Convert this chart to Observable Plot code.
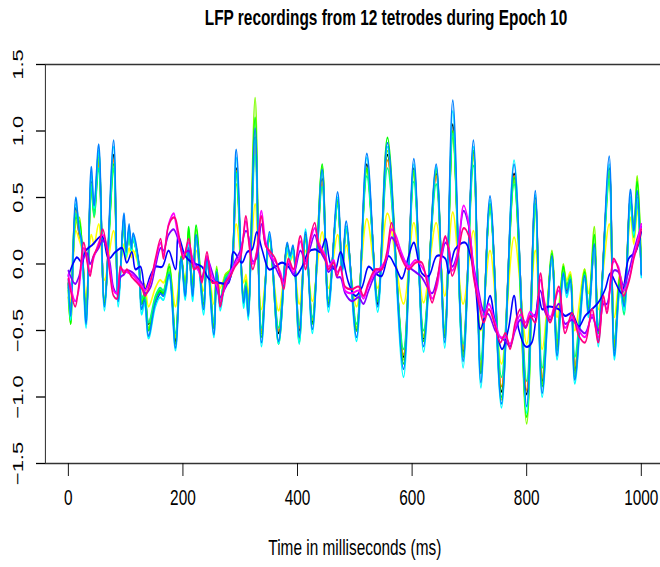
<!DOCTYPE html>
<html><head><meta charset="utf-8">
<script src="https://cdn.jsdelivr.net/npm/d3@7"></script>
<script src="https://cdn.jsdelivr.net/npm/@observablehq/plot@0.6"></script>
<style>
html,body{margin:0;padding:0;background:#fff;overflow:hidden;width:660px;height:567px}
#title{box-sizing:border-box;height:40px;line-height:35px;width:943px;padding-left:160px;text-align:center;transform:scaleX(0.6999);transform-origin:0 0;font-family:"Liberation Sans",Arial,sans-serif;font-weight:bold;font-size:22px;color:#000;white-space:nowrap}
#chart svg{display:block}
</style></head><body>
<div id="title">LFP recordings from 12 tetrodes during Epoch 10</div>
<div id="chart"></div>
<script>
const titleText = "LFP recordings from 12 tetrodes during Epoch 10";
const xLabel = "Time in milliseconds (ms)";
const xTicks = [0, 200, 400, 600, 800, 1000];
const yTicks = [-1.5, -1.0, -0.5, 0.0, 0.5, 1.0, 1.5];
const xDomain = [-40, 1040];
const yDomain = [-1.5, 1.5];

const seriesNames = ["T1","T2","T3","T4","T5","T6","T7","T8","T9","T10","T11","T12"];
const seriesColors = ["#000000","#FF8000","#FFFF00","#80FF00","#00FF00","#00FF80","#00FFFF","#0080FF","#0000FF","#8000FF","#FF00FF","#FF0080"];

// high-amplitude tetrodes: shared sample times (ms)
const tHigh = [0,4,13,19,23,31,40,45,53,63,
79,87,97,101,106,110,113,123,128,133,
140,152,160,166,176,187,197,204,210,217,
223,236,242,254,259,265,274,283,293,306,
310,314,326,337,351,367,382,387,392,403,
414,426,443,454,470,478,485,503,521,540,
557,585,603,620,642,657,671,689,707,720,
736,756,778,800,815,827,844,853,864,870,
876,884,901,908,918,925,944,953,963,970,
981,987,993,1000];

const vT1 = [-0.15,-0.35,0.42,0.22,0.16,-0.40,0.62,0.40,0.80,-0.30,
0.82,-0.26,0.34,0.08,0.26,0.10,0.20,0.00,-0.30,-0.26,
-0.45,-0.30,-0.22,-0.22,-0.06,-0.58,0.04,-0.22,0.12,-0.22,
0.20,-0.30,0.04,-0.48,-0.06,-0.28,-0.14,-0.10,0.72,-0.26,
-0.15,-0.35,0.95,-0.52,0.20,-0.52,0.14,0.05,0.12,-0.50,
0.22,-0.44,0.64,-0.30,0.48,-0.04,0.28,-0.50,0.75,-0.30,
0.82,-0.70,0.72,-0.56,0.68,-0.55,1.05,-0.66,0.85,-0.82,
0.45,-0.96,0.68,-0.98,0.50,-0.88,0.05,-0.62,-0.06,-0.20,
-0.12,-0.80,-0.08,-0.34,0.14,-0.52,0.72,-0.62,-0.14,-0.30,
0.50,0.22,0.50,-0.07];

const vT2 = [-0.14,-0.33,0.40,0.22,0.15,-0.38,0.60,0.38,0.76,-0.28,
0.78,-0.24,0.32,0.08,0.25,0.10,0.19,0.00,-0.28,-0.24,
-0.44,-0.28,-0.20,-0.21,-0.06,-0.55,0.04,-0.21,0.11,-0.21,
0.19,-0.29,0.04,-0.46,-0.05,-0.27,-0.12,-0.08,0.70,-0.25,
-0.14,-0.33,0.90,-0.50,0.19,-0.50,0.13,0.05,0.11,-0.48,
0.21,-0.42,0.62,-0.28,0.46,-0.04,0.27,-0.48,0.72,-0.28,
0.78,-0.68,0.70,-0.54,0.66,-0.52,1.00,-0.64,0.82,-0.80,
0.44,-0.92,0.66,-0.95,0.48,-0.85,0.05,-0.60,-0.06,-0.19,
-0.11,-0.77,-0.07,-0.32,0.13,-0.50,0.70,-0.60,-0.13,-0.29,
0.48,0.21,0.48,-0.06];

const vT3 = [-0.15,-0.28,0.25,0.18,0.12,-0.25,0.22,0.15,0.30,-0.12,
0.25,-0.12,0.15,0.04,0.12,0.05,0.10,-0.02,-0.18,-0.15,
-0.32,-0.18,-0.12,-0.14,-0.05,-0.32,0.02,-0.12,0.06,-0.12,
0.10,-0.20,0.02,-0.30,-0.04,-0.18,-0.08,-0.04,0.30,-0.14,
-0.08,-0.22,0.45,-0.34,0.10,-0.35,0.08,0.02,0.06,-0.30,
0.10,-0.28,0.24,-0.18,0.22,-0.02,0.14,-0.32,0.34,-0.18,
0.38,-0.30,0.31,-0.29,0.31,-0.24,0.39,-0.30,0.25,-0.50,
0.10,-0.75,0.20,-0.60,0.10,-0.64,0.02,-0.40,-0.04,-0.12,
-0.06,-0.50,-0.04,-0.22,0.10,-0.34,0.30,-0.40,-0.08,-0.20,
0.35,0.15,0.40,-0.04];

const vT4 = [-0.25,-0.45,0.30,0.35,0.20,-0.38,0.55,0.35,0.80,-0.28,
0.70,-0.22,0.28,0.08,0.22,0.10,0.18,0.00,-0.28,-0.22,
-0.48,-0.26,-0.18,-0.20,0.00,-0.55,0.05,-0.18,0.25,-0.18,
0.26,-0.32,0.06,-0.45,-0.02,-0.28,-0.08,-0.04,0.60,-0.28,
-0.12,-0.38,1.25,-0.52,0.18,-0.58,0.12,0.04,0.10,-0.56,
0.18,-0.42,0.73,-0.28,0.45,-0.03,0.25,-0.48,0.70,-0.26,
0.85,-0.72,0.68,-0.55,0.70,-0.52,0.95,-0.68,0.80,-0.80,
0.42,-1.02,0.62,-1.20,0.42,-0.90,0.10,-0.62,0.00,-0.16,
-0.08,-0.82,-0.04,-0.32,0.28,-0.50,0.62,-0.62,-0.08,-0.28,
0.45,0.30,0.66,0.00];

const vT5 = [-0.20,-0.45,0.35,0.32,0.20,-0.40,0.60,0.38,0.85,-0.30,
0.75,-0.25,0.30,0.06,0.25,0.10,0.20,-0.02,-0.30,-0.25,
-0.50,-0.28,-0.20,-0.22,-0.02,-0.60,0.06,-0.20,0.28,-0.20,
0.29,-0.30,0.05,-0.48,-0.04,-0.30,-0.10,-0.05,0.69,-0.30,
-0.15,-0.40,1.10,-0.55,0.20,-0.60,0.14,0.05,0.12,-0.59,
0.20,-0.45,0.75,-0.30,0.48,-0.05,0.28,-0.50,0.72,-0.28,
0.95,-0.75,0.70,-0.58,0.72,-0.55,1.00,-0.70,0.85,-0.82,
0.45,-1.00,0.65,-1.15,0.45,-0.92,0.08,-0.65,-0.02,-0.18,
-0.10,-0.85,-0.06,-0.35,0.22,-0.52,0.70,-0.65,-0.10,-0.30,
0.48,0.28,0.62,-0.05];

const vT6 = [-0.18,-0.35,0.38,0.25,0.15,-0.36,0.58,0.36,0.72,-0.26,
0.72,-0.22,0.30,0.08,0.24,0.10,0.18,0.00,-0.26,-0.22,
-0.44,-0.24,-0.18,-0.20,-0.06,-0.52,0.04,-0.20,0.10,-0.20,
0.18,-0.28,0.04,-0.44,-0.05,-0.26,-0.10,-0.06,0.68,-0.24,
-0.14,-0.32,0.82,-0.48,0.20,-0.48,0.12,0.05,0.10,-0.46,
0.20,-0.40,0.58,-0.26,0.44,-0.04,0.26,-0.45,0.66,-0.26,
0.72,-0.64,0.62,-0.50,0.60,-0.48,0.98,-0.60,0.74,-0.72,
0.40,-0.85,0.60,-0.88,0.44,-0.78,0.04,-0.56,-0.06,-0.18,
-0.10,-0.70,-0.08,-0.30,0.12,-0.46,0.64,-0.56,-0.20,-0.38,
0.45,0.20,0.45,-0.06];

const vT7 = [-0.15,-0.42,0.45,0.28,0.15,-0.48,0.68,0.42,0.85,-0.35,
0.88,-0.32,0.35,0.05,0.27,0.10,0.20,-0.03,-0.38,-0.30,
-0.56,-0.32,-0.25,-0.27,-0.10,-0.65,0.02,-0.27,0.15,-0.28,
0.20,-0.38,0.02,-0.55,-0.08,-0.35,-0.15,-0.10,0.80,-0.33,
-0.20,-0.42,0.95,-0.62,0.22,-0.60,0.12,0.03,0.10,-0.60,
0.26,-0.52,0.70,-0.36,0.50,-0.06,0.28,-0.58,0.80,-0.36,
0.88,-0.85,0.75,-0.66,0.73,-0.63,1.15,-0.78,0.88,-0.93,
0.48,-1.08,0.78,-1.12,0.52,-1.00,0.03,-0.72,-0.10,-0.25,
-0.15,-0.90,-0.12,-0.40,0.12,-0.62,0.75,-0.72,-0.20,-0.35,
0.50,0.22,0.50,-0.10];

const vT8 = [-0.12,-0.39,0.50,0.25,0.18,-0.45,0.73,0.44,0.90,-0.32,
0.93,-0.28,0.38,0.09,0.30,0.12,0.23,0.01,-0.34,-0.27,
-0.54,-0.29,-0.22,-0.24,-0.08,-0.63,0.04,-0.24,0.12,-0.24,
0.22,-0.34,0.04,-0.53,-0.06,-0.32,-0.12,-0.07,0.86,-0.29,
-0.17,-0.39,1.02,-0.59,0.24,-0.58,0.16,0.06,0.14,-0.55,
0.24,-0.49,0.71,-0.32,0.54,-0.04,0.32,-0.55,0.83,-0.32,
0.91,-0.79,0.79,-0.62,0.75,-0.59,1.23,-0.73,0.93,-0.89,
0.51,-1.05,0.75,-1.07,0.55,-0.97,0.06,-0.69,-0.07,-0.22,
-0.12,-0.87,-0.09,-0.37,0.15,-0.58,0.81,-0.69,-0.15,-0.32,
0.56,0.25,0.55,-0.08];

// blue tetrode
const tT9 = [0,9,15,24,30,41,59,70,82,94,
102,111,117,126,134,143,152,164,175,187,
192,204,216,233,245,262,280,288,303,312,
321,329,338,350,361,373,384,396,408,419,
431,440,449,457,466,475,489,501,513,524,
536,547,559,571,582,594,603,617,629,643,
658,664,675,693,702,710,719,728,736,745,
757,768,778,786,798,809,821,827,838,856,
867,879,891,902,914,925,937,946,955,966,
978,990,1000];
const vT9 = [-0.09,0.01,0.05,0.01,0.10,0.14,0.21,0.04,0.09,0.12,
0.01,0.09,-0.04,-0.02,-0.19,-0.09,-0.02,-0.02,0.10,-0.04,
0.21,0.06,0.01,-0.02,-0.11,-0.14,-0.14,0.09,0.01,0.09,
0.11,0.24,0.11,-0.04,-0.02,0.01,-0.02,-0.09,-0.02,0.09,
0.11,0.09,0.19,0.01,-0.04,0.09,-0.14,-0.24,-0.17,-0.02,
-0.07,-0.09,0.06,-0.02,-0.11,0.06,0.16,-0.07,-0.09,0.06,
0.04,-0.07,0.11,0.16,0.06,-0.14,-0.49,-0.37,-0.24,-0.44,
-0.64,-0.49,-0.24,-0.49,-0.62,-0.59,-0.24,-0.34,-0.32,-0.34,
-0.39,-0.37,-0.47,-0.39,-0.34,-0.29,-0.19,-0.07,-0.14,-0.22,
0.04,0.09,0.24];

// violet / magenta / rose tetrodes: shared sample times (ms)
const tLow = [0,12,18,27,33,38,44,53,60,68,
73,79,85,91,97,102,111,120,129,134,
143,152,161,166,175,184,187,192,201,210,
219,227,233,242,251,260,265,274,283,291,
300,310,315,322,329,337,344,353,361,370,
376,384,393,405,414,422,430,437,449,454,
463,469,475,483,495,507,515,524,536,547,
556,564,571,582,594,606,617,626,635,643,
652,658,664,670,678,690,699,707,716,725,
734,745,754,763,771,780,789,798,806,815,
824,832,841,856,867,879,891,902,914,925,
934,940,952,960,969,978,987,995,1000];

const vT10 = [-0.05,-0.15,-0.10,0.05,0.08,0.00,0.06,0.12,0.18,0.10,
0.00,-0.18,-0.22,-0.10,-0.08,-0.05,-0.06,-0.10,-0.15,-0.22,
-0.18,-0.02,0.12,0.10,0.22,0.26,0.24,0.18,0.08,0.10,
0.02,-0.04,-0.10,0.04,-0.06,-0.20,-0.25,-0.18,-0.10,0.02,
0.10,0.25,0.20,0.02,0.05,0.30,0.15,0.05,-0.02,-0.10,
-0.12,0.00,-0.08,0.10,0.02,0.12,0.22,0.12,0.02,-0.06,
-0.02,-0.10,-0.10,-0.22,-0.28,-0.25,-0.30,-0.20,-0.08,-0.04,
0.04,0.20,0.16,0.06,-0.02,-0.06,-0.10,-0.17,-0.22,-0.12,
0.06,0.16,0.12,-0.02,0.06,0.40,0.28,0.00,-0.20,-0.36,
-0.38,-0.50,-0.55,-0.58,-0.62,-0.50,-0.42,-0.48,-0.40,-0.38,
-0.20,-0.36,-0.42,-0.30,-0.45,-0.42,-0.48,-0.52,-0.40,-0.50,
-0.30,-0.30,-0.05,-0.06,-0.16,-0.06,0.10,0.22,0.28];

const vT11 = [-0.08,-0.28,-0.20,0.12,0.03,-0.06,0.04,0.16,0.22,0.12,
-0.05,-0.20,-0.22,-0.04,-0.05,-0.06,-0.08,-0.12,-0.17,-0.20,
-0.12,0.02,0.16,0.07,0.30,0.38,0.32,0.20,0.06,0.16,
0.00,-0.05,-0.12,0.06,-0.10,-0.17,-0.28,-0.16,-0.06,0.00,
0.07,0.32,0.18,0.00,0.10,0.40,0.18,0.06,0.02,-0.06,
-0.15,0.02,-0.06,0.17,0.00,0.16,0.27,0.16,0.06,-0.02,
0.03,-0.06,-0.04,-0.20,-0.22,-0.20,-0.26,-0.16,-0.06,-0.02,
0.06,0.26,0.22,0.08,-0.02,0.03,-0.02,-0.10,-0.26,-0.18,
0.08,0.20,0.12,-0.05,0.04,0.44,0.30,-0.02,-0.24,-0.40,
-0.30,-0.44,-0.55,-0.55,-0.60,-0.48,-0.38,-0.44,-0.36,-0.40,
-0.12,-0.30,-0.40,-0.20,-0.48,-0.40,-0.50,-0.55,-0.38,-0.55,
-0.28,-0.34,0.02,-0.02,-0.20,-0.12,0.06,0.20,0.30];

const vT12 = [-0.11,-0.32,-0.17,0.16,0.01,-0.09,0.06,0.14,0.26,0.09,
-0.09,-0.24,-0.26,-0.02,-0.07,-0.04,-0.10,-0.14,-0.19,-0.24,
-0.14,0.04,0.19,0.04,0.29,0.35,0.34,0.24,0.04,0.19,
-0.04,-0.02,-0.14,0.09,-0.14,-0.14,-0.32,-0.14,-0.09,-0.02,
0.04,0.36,0.16,-0.04,0.09,0.36,0.14,0.09,0.04,-0.09,
-0.19,0.04,-0.04,0.21,-0.04,0.19,0.31,0.14,0.04,-0.04,
0.01,-0.09,-0.02,-0.17,-0.19,-0.17,-0.24,-0.14,-0.04,-0.04,
0.09,0.31,0.19,0.04,-0.04,0.01,0.01,-0.14,-0.29,-0.14,
0.11,0.21,0.09,-0.09,0.01,0.27,0.21,-0.09,-0.29,-0.44,
-0.34,-0.47,-0.59,-0.52,-0.64,-0.44,-0.34,-0.47,-0.39,-0.44,
-0.07,-0.34,-0.44,-0.17,-0.52,-0.37,-0.54,-0.59,-0.34,-0.59,
-0.24,-0.37,0.04,-0.04,-0.24,-0.14,0.04,0.16,0.26];

const seriesTimes = [tHigh,tHigh,tHigh,tHigh,tHigh,tHigh,tHigh,tHigh,tT9,tLow,tLow,tLow];
const seriesValues = [vT1,vT2,vT3,vT4,vT5,vT6,vT7,vT8,vT9,vT10,vT11,vT12];

const rows = [];
seriesNames.forEach((name, k) => {
  const ts = seriesTimes[k], vs = seriesValues[k];
  for (let i = 0; i < ts.length; i++) rows.push({tetrode: name, t: ts[i], v: vs[i]});
});

const W = 943, H = 527;

const plot = Plot.plot({
  width: W,
  height: H,
  marginLeft: 64.4,
  marginRight: -5.5,
  marginTop: 24,
  marginBottom: 104,
  style: {fontFamily: "'Liberation Sans', Arial, sans-serif", fontSize: "22px", color: "#000", background: "#fff", overflow: "hidden"},
  x: {domain: xDomain},
  y: {domain: yDomain},
  color: {domain: seriesNames, range: seriesColors},
  marks: [
    Plot.line(rows, {x: "t", y: "v", z: "tetrode", stroke: "tetrode", strokeWidth: 2.2, curve: "catmull-rom"}),
    Plot.frame({stroke: "#333", strokeWidth: 1.5}),
    Plot.axisX({ticks: xTicks, tickSize: 13, tickPadding: 13, tickFormat: d => String(d), label: null, strokeWidth: 1.3}),
    Plot.axisY({ticks: yTicks, tickSize: 13, tickPadding: 19, tickRotate: -90, tickFormat: d3.format(".1f"), label: null, strokeWidth: 1.3}),
    Plot.text([xLabel], {frameAnchor: "bottom", dy: 91, text: d => d, fontSize: 22})
  ]
});
plot.setAttribute("preserveAspectRatio", "none");
plot.style.width = "660px";
plot.style.height = H + "px";
plot.style.maxWidth = "none";
document.getElementById("chart").appendChild(plot);
</script>
</body></html>
